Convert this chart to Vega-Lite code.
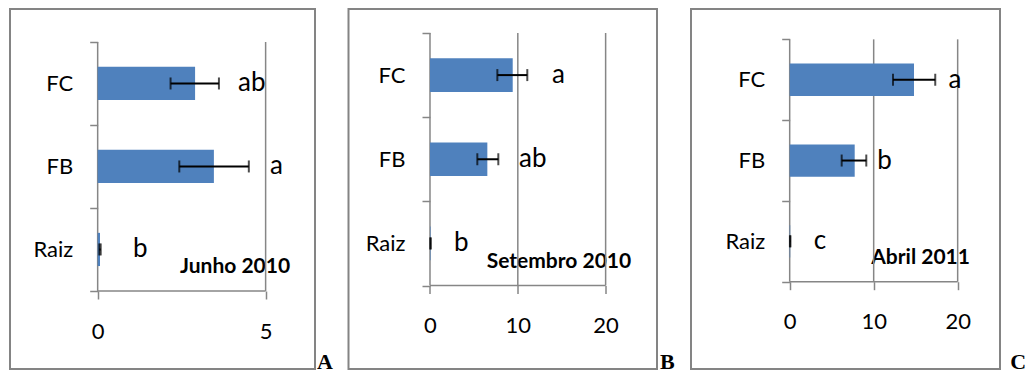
{
  "$schema": "https://vega.github.io/schema/vega-lite/v6.json",
  "padding": {"left": 9, "top": -3, "right": 0, "bottom": 0},
  "background": "white",
  "config": {
    "view": {"stroke": "#848484", "strokeWidth": 2},
    "font": "Lato",
    "axis": {"labelFont": "Lato", "labelFontSize": 22, "labelColor": "black", "tickColor": "#868686", "tickWidth": 1.5, "title": null}
  },
  "bounds": "flush",
  "spacing": 33.5,
  "hconcat": [
    {
      "width": 305,
      "height": 360,
      "data": {"values": [
        {"cat": "FC", "mean": 2.90, "lo": 2.17, "hi": 3.61, "letter": "ab", "letter_x": 4.18},
        {"cat": "FB", "mean": 3.46, "lo": 2.43, "hi": 4.50, "letter": "a", "letter_x": 5.13},
        {"cat": "Raiz", "mean": 0.07, "lo": 0.05, "hi": 0.09, "letter": "b", "letter_x": 1.05}
      ]},
      "layer": [
        {
          "data": {"values": [{"label": "Junho 2010"}]},
          "mark": {"type": "text", "font": "Lato", "fontWeight": "bold", "fontSize": 21, "align": "left", "baseline": "alphabetic", "color": "black"},
          "encoding": {
            "text": {"field": "label"},
            "x": {"datum": 2.45, "type": "quantitative"},
            "y": {"datum": "Raiz", "type": "nominal", "bandPosition": 0.78}
          }
        },
        {
          "data": {"values": [{"g": 0}, {"g": 5}]},
          "mark": {"type": "rule", "color": "#868686", "strokeWidth": 1.5},
          "encoding": {
            "x": {"field": "g", "type": "quantitative"},
            "y": {"datum": "FC", "type": "nominal", "bandPosition": 0},
            "y2": {"datum": "Raiz", "bandPosition": 1}
          }
        },
        {
          "data": {"values": [{"k": 1}]},
          "mark": {"type": "rule", "color": "#868686", "strokeWidth": 1.5},
          "encoding": {
            "x": {"datum": 0, "type": "quantitative"},
            "x2": {"datum": 5},
            "y": {"datum": "Raiz", "type": "nominal", "bandPosition": 1}
          }
        },
        {
          "mark": {"type": "bar", "color": "#4F81BD", "height": {"band": 0.4}},
          "encoding": {
            "y": {"field": "cat", "type": "nominal",
                  "scale": {"domain": ["FC", "FB", "Raiz"], "paddingInner": 0, "paddingOuter": 0.669, "align": 0.297},
                  "axis": {"orient": "left", "offset": -87.7, "domain": false, "ticks": true, "tickBand": "extent", "tickSize": 8, "labelPadding": 17, "grid": false}},
            "x": {"field": "mean", "type": "quantitative",
                  "scale": {"domain": [-2.61, 6.47], "nice": false, "zero": false},
                  "axis": {"values": [0, 5], "offset": -78, "domain": false, "grid": false, "ticks": true, "tickSize": 8, "labelPadding": 22}},
            "x2": {"datum": 0}
          }
        },
        {
          "mark": {"type": "rule", "color": "black", "strokeWidth": 2},
          "encoding": {
            "y": {"field": "cat", "type": "nominal"},
            "x": {"field": "lo", "type": "quantitative"},
            "x2": {"field": "hi"}
          }
        },
        {
          "mark": {"type": "tick", "color": "black", "thickness": 2, "size": 12, "orient": "vertical"},
          "encoding": {"y": {"field": "cat", "type": "nominal"}, "x": {"field": "lo", "type": "quantitative"}}
        },
        {
          "mark": {"type": "tick", "color": "black", "thickness": 2, "size": 12, "orient": "vertical"},
          "encoding": {"y": {"field": "cat", "type": "nominal"}, "x": {"field": "hi", "type": "quantitative"}}
        },
        {
          "mark": {"type": "text", "font": "Lato", "fontSize": 26, "align": "left", "baseline": "middle", "color": "black"},
          "encoding": {"y": {"field": "cat", "type": "nominal"}, "x": {"field": "letter_x", "type": "quantitative"}, "text": {"field": "letter"}}
        },
        {
          "data": {"values": [{"panel": "A"}]},
          "mark": {"type": "text", "font": "Liberation Serif", "fontWeight": "bold", "fontSize": 22, "align": "left", "baseline": "alphabetic", "color": "black"},
          "encoding": {
            "text": {"field": "panel"},
            "x": {"datum": 6.53, "type": "quantitative"},
            "y": {"datum": "Raiz", "type": "nominal", "bandPosition": 1.94}
          }
        }
      ]
    },
    {
      "width": 308.5,
      "height": 360,
      "data": {"values": [
        {"cat": "FC", "mean": 9.42, "lo": 7.67, "hi": 11.08, "letter": "a", "letter_x": 13.9},
        {"cat": "FB", "mean": 6.53, "lo": 5.39, "hi": 7.78, "letter": "ab", "letter_x": 10.14},
        {"cat": "Raiz", "mean": 0.06, "lo": 0.03, "hi": 0.09, "letter": "b", "letter_x": 2.73}
      ]},
      "layer": [
        {
          "data": {"values": [{"label": "Setembro 2010"}]},
          "mark": {"type": "text", "font": "Lato", "fontWeight": "bold", "fontSize": 21, "align": "left", "baseline": "alphabetic", "color": "black"},
          "encoding": {
            "text": {"field": "label"},
            "x": {"datum": 6.46, "type": "quantitative"},
            "y": {"datum": "Raiz", "type": "nominal", "bandPosition": 0.79}
          }
        },
        {
          "data": {"values": [{"g": 0}, {"g": 10}, {"g": 20}]},
          "mark": {"type": "rule", "color": "#868686", "strokeWidth": 1.5},
          "encoding": {
            "x": {"field": "g", "type": "quantitative"},
            "y": {"datum": "FC", "type": "nominal", "bandPosition": 0},
            "y2": {"datum": "Raiz", "bandPosition": 1}
          }
        },
        {
          "data": {"values": [{"k": 1}]},
          "mark": {"type": "rule", "color": "#868686", "strokeWidth": 1.5},
          "encoding": {
            "x": {"datum": 0, "type": "quantitative"},
            "x2": {"datum": 20},
            "y": {"datum": "Raiz", "type": "nominal", "bandPosition": 1}
          }
        },
        {
          "mark": {"type": "bar", "color": "#4F81BD", "height": {"band": 0.4}},
          "encoding": {
            "y": {"field": "cat", "type": "nominal",
                  "scale": {"domain": ["FC", "FB", "Raiz"], "paddingInner": 0, "paddingOuter": 0.6385, "align": 0.2233},
                  "axis": {"orient": "left", "offset": -81.5, "domain": false, "ticks": true, "tickBand": "extent", "tickSize": 8, "labelPadding": 17, "grid": false}},
            "x": {"field": "mean", "type": "quantitative",
                  "scale": {"domain": [-9.28, 25.85], "nice": false, "zero": false},
                  "axis": {"values": [0, 10, 20], "offset": -83.5, "domain": false, "grid": false, "ticks": true, "tickSize": 8, "labelPadding": 22}},
            "x2": {"datum": 0}
          }
        },
        {
          "mark": {"type": "rule", "color": "black", "strokeWidth": 2},
          "encoding": {
            "y": {"field": "cat", "type": "nominal"},
            "x": {"field": "lo", "type": "quantitative"},
            "x2": {"field": "hi"}
          }
        },
        {
          "mark": {"type": "tick", "color": "black", "thickness": 2, "size": 12, "orient": "vertical"},
          "encoding": {"y": {"field": "cat", "type": "nominal"}, "x": {"field": "lo", "type": "quantitative"}}
        },
        {
          "mark": {"type": "tick", "color": "black", "thickness": 2, "size": 12, "orient": "vertical"},
          "encoding": {"y": {"field": "cat", "type": "nominal"}, "x": {"field": "hi", "type": "quantitative"}}
        },
        {
          "mark": {"type": "text", "font": "Lato", "fontSize": 26, "align": "left", "baseline": "middle", "color": "black"},
          "encoding": {"y": {"field": "cat", "type": "nominal"}, "x": {"field": "letter_x", "type": "quantitative"}, "text": {"field": "letter"}}
        },
        {
          "data": {"values": [{"panel": "B"}]},
          "mark": {"type": "text", "font": "Liberation Serif", "fontWeight": "bold", "fontSize": 22, "align": "left", "baseline": "alphabetic", "color": "black"},
          "encoding": {
            "text": {"field": "panel"},
            "x": {"datum": 26.2, "type": "quantitative"},
            "y": {"datum": "Raiz", "type": "nominal", "bandPosition": 1.99}
          }
        }
      ]
    },
    {
      "width": 309,
      "height": 360,
      "data": {"values": [
        {"cat": "FC", "mean": 14.8, "lo": 12.3, "hi": 17.33, "letter": "a", "letter_x": 18.9},
        {"cat": "FB", "mean": 7.74, "lo": 6.19, "hi": 9.12, "letter": "b", "letter_x": 10.44},
        {"cat": "Raiz", "mean": 0.06, "lo": 0.03, "hi": 0.09, "letter": "c", "letter_x": 2.86}
      ]},
      "layer": [
        {
          "data": {"values": [{"label": "Abril 2011"}]},
          "mark": {"type": "text", "font": "Lato", "fontWeight": "bold", "fontSize": 21, "align": "left", "baseline": "alphabetic", "color": "black"},
          "encoding": {
            "text": {"field": "label"},
            "x": {"datum": 9.71, "type": "quantitative"},
            "y": {"datum": "Raiz", "type": "nominal", "bandPosition": 0.777}
          }
        },
        {
          "data": {"values": [{"g": 0}, {"g": 10}, {"g": 20}]},
          "mark": {"type": "rule", "color": "#868686", "strokeWidth": 1.5},
          "encoding": {
            "x": {"field": "g", "type": "quantitative"},
            "y": {"datum": "FC", "type": "nominal", "bandPosition": 0},
            "y2": {"datum": "Raiz", "bandPosition": 1}
          }
        },
        {
          "data": {"values": [{"k": 1}]},
          "mark": {"type": "rule", "color": "#868686", "strokeWidth": 1.5},
          "encoding": {
            "x": {"datum": 0, "type": "quantitative"},
            "x2": {"datum": 20},
            "y": {"datum": "Raiz", "type": "nominal", "bandPosition": 1}
          }
        },
        {
          "mark": {"type": "bar", "color": "#4F81BD", "height": {"band": 0.4}},
          "encoding": {
            "y": {"field": "cat", "type": "nominal",
                  "scale": {"domain": ["FC", "FB", "Raiz"], "paddingInner": 0, "paddingOuter": 0.728, "align": 0.258},
                  "axis": {"orient": "left", "offset": -98.7, "domain": false, "ticks": true, "tickBand": "extent", "tickSize": 8, "labelPadding": 17, "grid": false}},
            "x": {"field": "mean", "type": "quantitative",
                  "scale": {"domain": [-11.75, 25.04], "nice": false, "zero": false},
                  "axis": {"values": [0, 10, 20], "offset": -87.3, "domain": false, "grid": false, "ticks": true, "tickSize": 8, "labelPadding": 22}},
            "x2": {"datum": 0}
          }
        },
        {
          "mark": {"type": "rule", "color": "black", "strokeWidth": 2},
          "encoding": {
            "y": {"field": "cat", "type": "nominal"},
            "x": {"field": "lo", "type": "quantitative"},
            "x2": {"field": "hi"}
          }
        },
        {
          "mark": {"type": "tick", "color": "black", "thickness": 2, "size": 12, "orient": "vertical"},
          "encoding": {"y": {"field": "cat", "type": "nominal"}, "x": {"field": "lo", "type": "quantitative"}}
        },
        {
          "mark": {"type": "tick", "color": "black", "thickness": 2, "size": 12, "orient": "vertical"},
          "encoding": {"y": {"field": "cat", "type": "nominal"}, "x": {"field": "hi", "type": "quantitative"}}
        },
        {
          "mark": {"type": "text", "font": "Lato", "fontSize": 26, "align": "left", "baseline": "middle", "color": "black"},
          "encoding": {"y": {"field": "cat", "type": "nominal"}, "x": {"field": "letter_x", "type": "quantitative"}, "text": {"field": "letter"}}
        },
        {
          "data": {"values": [{"panel": "C"}]},
          "mark": {"type": "text", "font": "Liberation Serif", "fontWeight": "bold", "fontSize": 22, "align": "left", "baseline": "alphabetic", "color": "black"},
          "encoding": {
            "text": {"field": "panel"},
            "x": {"datum": 26.26, "type": "quantitative"},
            "y": {"datum": "Raiz", "type": "nominal", "bandPosition": 2.08}
          }
        }
      ]
    }
  ]
}
